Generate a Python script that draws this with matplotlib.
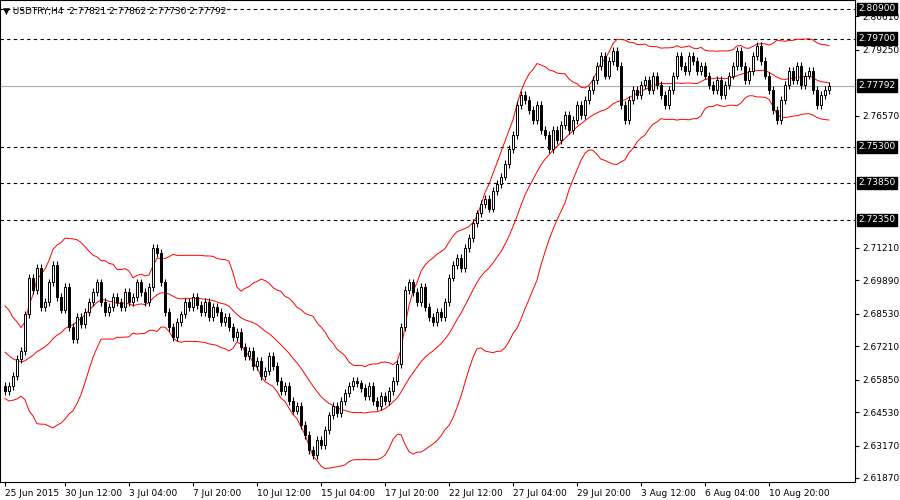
import numpy as np
import pandas as pd
import matplotlib
matplotlib.use('Agg')
import matplotlib.pyplot as plt

# closes before the first visible bar (only feed the bands)
history = [2.688, 2.684, 2.686, 2.680, 2.682, 2.676, 2.678, 2.672, 2.674, 2.670,
           2.668, 2.672, 2.666, 2.664, 2.668, 2.662, 2.660, 2.664, 2.658, 2.656]

# H4 closes, one per bar
closes = [2.654, 2.656, 2.660, 2.667, 2.670,
          2.685, 2.700, 2.695, 2.704, 2.688, 2.690,
          2.698, 2.705, 2.692, 2.687, 2.696,
          2.680, 2.675, 2.684, 2.681, 2.686, 2.690,
          2.694, 2.698, 2.690, 2.686, 2.688, 2.692, 2.690, 2.688, 2.694, 2.690, 2.692, 2.698, 2.694, 2.690, 2.696,
          2.712, 2.710, 2.698,
          2.686, 2.680, 2.676, 2.682, 2.685, 2.690, 2.688,
          2.692, 2.689, 2.686, 2.690, 2.684, 2.688, 2.686, 2.682, 2.684, 2.680,
          2.676, 2.678, 2.672, 2.668, 2.670, 2.664, 2.666, 2.660, 2.662, 2.668, 2.664, 2.658, 2.654, 2.656, 2.650,
          2.646, 2.648, 2.640, 2.636, 2.630, 2.628,
          2.634, 2.632, 2.638, 2.644,
          2.648, 2.645, 2.650, 2.653, 2.656, 2.658, 2.657, 2.655,
          2.652, 2.656, 2.650, 2.648, 2.652, 2.650, 2.654, 2.658,
          2.665, 2.680, 2.695, 2.698,
          2.694, 2.690, 2.696, 2.688, 2.684, 2.682, 2.686, 2.684, 2.690,
          2.700, 2.705, 2.708, 2.704, 2.712, 2.716,
          2.722, 2.726, 2.730, 2.732, 2.728, 2.735, 2.738, 2.741,
          2.746, 2.752, 2.758, 2.770, 2.774, 2.772,
          2.768, 2.764, 2.770, 2.760, 2.758, 2.752, 2.760,
          2.756, 2.762, 2.766, 2.760, 2.764, 2.770, 2.766, 2.772, 2.776,
          2.780, 2.786, 2.790, 2.782, 2.788, 2.792, 2.786,
          2.770, 2.764, 2.772, 2.776, 2.774,
          2.778, 2.780, 2.776, 2.782, 2.778, 2.774, 2.770, 2.776, 2.782, 2.790, 2.786, 2.784, 2.790,
          2.788, 2.784, 2.786, 2.782, 2.778, 2.776, 2.780, 2.774, 2.778, 2.782, 2.786, 2.792, 2.786,
          2.780, 2.784, 2.790, 2.794, 2.788, 2.782, 2.776,
          2.768, 2.764, 2.772, 2.778, 2.784, 2.780, 2.786, 2.778,
          2.782, 2.784, 2.776, 2.770, 2.774, 2.776, 2.7779]
wick = 0.0016

levels = [2.8090, 2.7970, 2.7530, 2.7385, 2.7235]
last_price = 2.77792
tick_prices = [2.8061, 2.7925, 2.7657, 2.7121, 2.6989, 2.6853, 2.6721, 2.6585, 2.6453, 2.6317, 2.6187]
date_labels = ['25 Jun 2015', '30 Jun 12:00', '3 Jul 04:00', '7 Jul 20:00', '10 Jul 12:00',
               '15 Jul 04:00', '17 Jul 20:00', '22 Jul 12:00', '27 Jul 04:00', '29 Jul 20:00',
               '3 Aug 12:00', '6 Aug 04:00', '10 Aug 20:00']
date_bars = [0, 15, 31, 47, 63, 79, 95, 111, 127, 143, 159, 175, 191]

allc = pd.Series(history + closes)
n0 = len(history)
mid = allc.rolling(20).mean().iloc[n0:].values
sd = allc.rolling(20).std().iloc[n0:].values
upper = mid + 2 * sd
lower = mid - 2 * sd
c = allc.iloc[n0:].values
o = allc.shift(1).iloc[n0:].values

plt.rcParams['font.family'] = 'DejaVu Sans'
fig = plt.figure(figsize=(9, 5), dpi=100)
ax = fig.add_axes([0, 18 / 500, 855 / 900, 482 / 500])
x = np.arange(len(closes))

for lv in levels:
    ax.axhline(lv, color='black', lw=0.8, ls=(0, (3, 3)))
ax.axhline(last_price, color='#aaaaaa', lw=0.8)

ax.plot(x, mid, color='red', lw=0.7)
ax.plot(x, upper, color='red', lw=0.7)
ax.plot(x, lower, color='red', lw=0.7)

for i in x:
    op, cl = o[i], c[i]
    ax.vlines(i, min(op, cl) - wick, max(op, cl) + wick, color='black', lw=0.8, zorder=3)
    face = 'white' if cl >= op else 'black'
    ax.bar(i, max(abs(cl - op), 0.0003), bottom=min(op, cl), width=0.6,
           color=face, edgecolor='black', lw=0.7, zorder=4)

ax.set_xlim(-1.25, 212.5)
ax.set_ylim(2.6170, 2.81265)
ax.yaxis.tick_right()
ax.set_yticks(tick_prices)
ax.set_yticklabels(['%.5f' % p for p in tick_prices], fontsize=6.5)
ax.set_xticks(date_bars)
ax.set_xticklabels(date_labels, fontsize=6.5, ha='left')
ax.tick_params(length=3, pad=2)
for s in ax.spines.values():
    s.set_color('black')

for lv in levels + [last_price]:
    txt = '%.5f' % lv if lv == last_price else '%.4f0' % lv
    ax.text(1.004, lv, txt, transform=ax.get_yaxis_transform(), fontsize=6.5, color='white',
            va='center', ha='left', bbox=dict(facecolor='black', edgecolor='black', pad=1.2))

ax.text(0.004, 0.985, '\u25BC USDTRY,H4  2.77821 2.77862 2.77730 2.77792', transform=ax.transAxes,
        fontsize=6.5, va='top', ha='left')

fig.savefig('out.png', dpi=100)
